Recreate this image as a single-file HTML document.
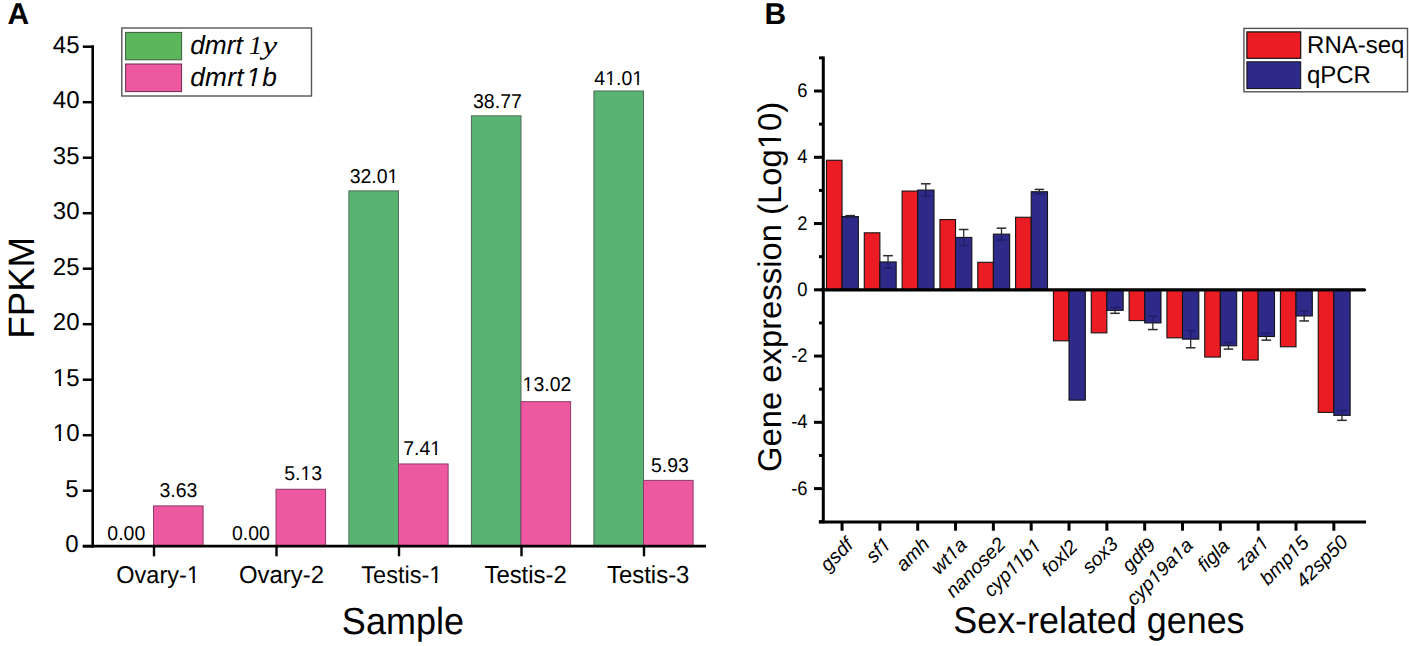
<!DOCTYPE html>
<html><head><meta charset="utf-8"><title>Figure</title>
<style>
html,body{margin:0;padding:0;background:#fff;}
body{width:1409px;height:646px;overflow:hidden;}
svg{display:block;}
text{font-family:"Liberation Sans", sans-serif;fill:#000;text-rendering:geometricPrecision;}
</style></head>
<body>
<svg width="1409" height="646" viewBox="0 0 1409 646">
<rect width="1409" height="646" fill="#fff"/>
<text transform="translate(7.6,24.1)" font-size="30" font-weight="bold">A</text>
<rect x="153.5" y="505.91" width="49.6" height="40.29" fill="#ee58a0" stroke="#8a3b6b" stroke-width="1"/>
<text transform="translate(107.32,539.9) scale(1,1.03)" font-size="19.5">0.00</text>
<text transform="translate(159.38,497.1) scale(1,1.03)" font-size="19.5">3.63</text>
<text transform="translate(116.33,583.3) scale(1,1.03)" font-size="23.5">Ovary-1</text>
<path class="f1" transform="translate(116.33,583.3) scale(1,1.03)" d="M71.26,1.20 L71.26,-3.44 L76.41,-3.44 L76.41,1.20 Z M78.49,1.20 L78.49,-3.44 L83.45,-3.44 L83.45,1.20 Z" fill="#fff"/>
<line x1="154" y1="546.2" x2="154" y2="556.3" stroke="#000" stroke-width="2.4"/>
<rect x="276" y="489.26" width="49.6" height="56.94" fill="#ee58a0" stroke="#8a3b6b" stroke-width="1"/>
<text transform="translate(231.97,539.9) scale(1,1.03)" font-size="19.5">0.00</text>
<text transform="translate(284.26,480.2) scale(1,1.03)" font-size="19.5">5.13</text>
<path class="f1" transform="translate(284.26,480.2) scale(1,1.03)" d="M16.88,1.20 L16.88,-2.86 L21.15,-2.86 L21.15,1.20 Z M22.88,1.20 L22.88,-2.86 L27.00,-2.86 L27.00,1.20 Z" fill="#fff"/>
<text transform="translate(239.04,583.3) scale(1,1.03)" font-size="23.9">Ovary-2</text>
<line x1="276.5" y1="546.2" x2="276.5" y2="556.3" stroke="#000" stroke-width="2.4"/>
<rect x="348.9" y="190.89" width="49.6" height="355.31" fill="#59b473" stroke="#4f6b57" stroke-width="1"/>
<rect x="398.5" y="463.95" width="49.6" height="82.25" fill="#ee58a0" stroke="#8a3b6b" stroke-width="1"/>
<text transform="translate(349.66,183.2) scale(1,1.03)" font-size="19.5">32.01</text>
<path class="f1" transform="translate(349.66,183.2) scale(1,1.03)" d="M38.57,1.20 L38.57,-2.86 L42.84,-2.86 L42.84,1.20 Z M44.56,1.20 L44.56,-2.86 L48.69,-2.86 L48.69,1.20 Z" fill="#fff"/>
<text transform="translate(403.25,454.6) scale(1,1.03)" font-size="19.5">7.41</text>
<path class="f1" transform="translate(403.25,454.6) scale(1,1.03)" d="M27.72,1.20 L27.72,-2.86 L32.00,-2.86 L32.00,1.20 Z M33.72,1.20 L33.72,-2.86 L37.84,-2.86 L37.84,1.20 Z" fill="#fff"/>
<text transform="translate(361.33,583.3) scale(1,1.03)" font-size="23.5">Testis-1</text>
<path class="f1" transform="translate(361.33,583.3) scale(1,1.03)" d="M68.65,1.20 L68.65,-3.44 L73.80,-3.44 L73.80,1.20 Z M75.88,1.20 L75.88,-3.44 L80.85,-3.44 L80.85,1.20 Z" fill="#fff"/>
<line x1="399" y1="546.2" x2="399" y2="556.3" stroke="#000" stroke-width="2.4"/>
<rect x="471.4" y="115.85" width="49.6" height="430.35" fill="#59b473" stroke="#4f6b57" stroke-width="1"/>
<rect x="521" y="401.68" width="49.6" height="144.52" fill="#ee58a0" stroke="#8a3b6b" stroke-width="1"/>
<text transform="translate(473.02,108.4) scale(1,1.03)" font-size="19.5">38.77</text>
<text transform="translate(522.6,390.9) scale(1,1.03)" font-size="19.5">13.02</text>
<path class="f1" transform="translate(522.6,390.9) scale(1,1.03)" d="M0.63,1.20 L0.63,-2.86 L4.90,-2.86 L4.90,1.20 Z M6.63,1.20 L6.63,-2.86 L10.75,-2.86 L10.75,1.20 Z" fill="#fff"/>
<text transform="translate(484.44,583.3) scale(1,1.03)" font-size="23.9">Testis-2</text>
<line x1="521.5" y1="546.2" x2="521.5" y2="556.3" stroke="#000" stroke-width="2.4"/>
<rect x="593.9" y="90.99" width="49.6" height="455.21" fill="#59b473" stroke="#4f6b57" stroke-width="1"/>
<rect x="643.5" y="480.38" width="49.6" height="65.82" fill="#ee58a0" stroke="#8a3b6b" stroke-width="1"/>
<text transform="translate(594.3,84.9) scale(1,1.03)" font-size="19.5">41.01</text>
<path class="f1" transform="translate(594.3,84.9) scale(1,1.03)" d="M11.47,1.20 L11.47,-2.86 L15.75,-2.86 L15.75,1.20 Z M17.47,1.20 L17.47,-2.86 L21.59,-2.86 L21.59,1.20 Z" fill="#fff"/>
<path class="f1" transform="translate(594.3,84.9) scale(1,1.03)" d="M38.57,1.20 L38.57,-2.86 L42.84,-2.86 L42.84,1.20 Z M44.56,1.20 L44.56,-2.86 L48.69,-2.86 L48.69,1.20 Z" fill="#fff"/>
<text transform="translate(650.91,471.8) scale(1,1.03)" font-size="19.5">5.93</text>
<text transform="translate(607.06,583.3) scale(1,1.03)" font-size="23.9">Testis-3</text>
<line x1="644" y1="546.2" x2="644" y2="556.3" stroke="#000" stroke-width="2.4"/>
<line x1="92.7" y1="45.3" x2="92.7" y2="547.4" stroke="#000" stroke-width="2.6"/>
<line x1="82.8" y1="546.2" x2="706" y2="546.2" stroke="#000" stroke-width="2.7"/>
<line x1="82.8" y1="546.2" x2="92.7" y2="546.2" stroke="#000" stroke-width="2.5"/>
<text transform="translate(78.5,552.4) scale(1,1.02)" font-size="24" text-anchor="end">0</text>
<line x1="82.8" y1="490.7" x2="92.7" y2="490.7" stroke="#000" stroke-width="2.5"/>
<text transform="translate(78.5,496.9) scale(1,1.02)" font-size="24" text-anchor="end">5</text>
<line x1="82.8" y1="435.2" x2="92.7" y2="435.2" stroke="#000" stroke-width="2.5"/>
<text transform="translate(79.5,441.4) scale(1,1.02)" font-size="24" text-anchor="end">10</text>
<path class="f1" transform="translate(79.5,441.4) scale(1,1.02)" d="M-25.93,1.20 L-25.93,-3.52 L-20.67,-3.52 L-20.67,1.20 Z M-18.55,1.20 L-18.55,-3.52 L-13.47,-3.52 L-13.47,1.20 Z" fill="#fff"/>
<line x1="82.8" y1="379.7" x2="92.7" y2="379.7" stroke="#000" stroke-width="2.5"/>
<text transform="translate(79.5,385.9) scale(1,1.02)" font-size="24" text-anchor="end">15</text>
<path class="f1" transform="translate(79.5,385.9) scale(1,1.02)" d="M-25.93,1.20 L-25.93,-3.52 L-20.67,-3.52 L-20.67,1.20 Z M-18.55,1.20 L-18.55,-3.52 L-13.47,-3.52 L-13.47,1.20 Z" fill="#fff"/>
<line x1="82.8" y1="324.2" x2="92.7" y2="324.2" stroke="#000" stroke-width="2.5"/>
<text transform="translate(79.5,330.4) scale(1,1.02)" font-size="24" text-anchor="end">20</text>
<line x1="82.8" y1="268.7" x2="92.7" y2="268.7" stroke="#000" stroke-width="2.5"/>
<text transform="translate(79.5,274.9) scale(1,1.02)" font-size="24" text-anchor="end">25</text>
<line x1="82.8" y1="213.2" x2="92.7" y2="213.2" stroke="#000" stroke-width="2.5"/>
<text transform="translate(79.5,219.4) scale(1,1.02)" font-size="24" text-anchor="end">30</text>
<line x1="82.8" y1="157.7" x2="92.7" y2="157.7" stroke="#000" stroke-width="2.5"/>
<text transform="translate(79.5,163.9) scale(1,1.02)" font-size="24" text-anchor="end">35</text>
<line x1="82.8" y1="102.2" x2="92.7" y2="102.2" stroke="#000" stroke-width="2.5"/>
<text transform="translate(79.5,108.4) scale(1,1.02)" font-size="24" text-anchor="end">40</text>
<line x1="82.8" y1="46.7" x2="92.7" y2="46.7" stroke="#000" stroke-width="2.5"/>
<text transform="translate(79.5,52.9) scale(1,1.02)" font-size="24" text-anchor="end">45</text>
<text transform="translate(33.6,287.8) rotate(-90)" font-size="36.7" text-anchor="middle">FPKM</text>
<text transform="translate(402.9,633.6) scale(1,1.05)" font-size="36" text-anchor="middle">Sample</text>
<rect x="121.8" y="28" width="189.7" height="68" fill="#fff" stroke="#555" stroke-width="1.4"/>
<rect x="125.6" y="32.4" width="56" height="27.4" fill="#5ab75c" stroke="#3d5a40" stroke-width="1"/>
<rect x="125.6" y="64" width="56" height="27.6" fill="#ee58a0" stroke="#6b2a4c" stroke-width="1"/>
<text transform="translate(190.2,54.2)" font-size="26.3" font-style="italic">dmrt</text>
<text transform="translate(248.9,54.0)" font-size="26.3" font-style="italic" style="font-family:&quot;Liberation Serif&quot;,serif">1</text>
<text transform="translate(262.6,54.0) scale(1.26,1)" font-size="26.3" font-style="italic" style="font-family:&quot;Liberation Serif&quot;,serif">y</text>
<text transform="translate(190.2,86)" font-size="26.3" font-style="italic" letter-spacing="0.25" dx="0 0 0 0 2.5 1">dmrt1b</text>
<path class="f1" transform="translate(190.2,86)" d="M55.65,1.20 L56.04,-3.85 L61.80,-3.85 L61.42,1.20 Z M63.74,1.20 L64.13,-3.85 L69.69,-3.85 L69.30,1.20 Z" fill="#fff"/>
<text transform="translate(764.5,24)" font-size="30" font-weight="bold">B</text>
<rect x="826.45" y="160.26" width="15.6" height="129.54" fill="#ec1c24" stroke="#141414" stroke-width="1.1"/>
<rect x="842.05" y="216.58" width="16.3" height="73.22" fill="#2d2a8a" stroke="#141414" stroke-width="1.1"/>
<line x1="850.2" y1="216.58" x2="850.2" y2="217.58" stroke="#201d66" stroke-width="1.3"/>
<line x1="845.4" y1="217.58" x2="855" y2="217.58" stroke="#201d66" stroke-width="1.4"/>
<line x1="850.2" y1="216.58" x2="850.2" y2="215.59" stroke="#2a2a2a" stroke-width="1.3"/>
<line x1="845.4" y1="215.59" x2="855" y2="215.59" stroke="#2a2a2a" stroke-width="1.5"/>
<line x1="842.05" y1="521.8" x2="842.05" y2="530.7" stroke="#000" stroke-width="3"/>
<text transform="translate(854.25,546.2) rotate(-45)" font-size="19.6" text-anchor="end" font-style="italic">gsdf</text>
<rect x="864.28" y="232.82" width="15.6" height="56.98" fill="#ec1c24" stroke="#141414" stroke-width="1.1"/>
<rect x="879.88" y="261.97" width="16.3" height="27.83" fill="#2d2a8a" stroke="#141414" stroke-width="1.1"/>
<line x1="888.03" y1="261.97" x2="888.03" y2="268.27" stroke="#201d66" stroke-width="1.3"/>
<line x1="883.23" y1="268.27" x2="892.83" y2="268.27" stroke="#201d66" stroke-width="1.4"/>
<line x1="888.03" y1="261.97" x2="888.03" y2="255.68" stroke="#2a2a2a" stroke-width="1.3"/>
<line x1="883.23" y1="255.68" x2="892.83" y2="255.68" stroke="#2a2a2a" stroke-width="1.5"/>
<line x1="879.88" y1="521.8" x2="879.88" y2="530.7" stroke="#000" stroke-width="3"/>
<text transform="translate(892.25,545.51) rotate(-45)" font-size="19.6" text-anchor="end" font-style="italic">sf1</text>
<path class="f1" transform="translate(892.25,545.51) rotate(-45)" d="M-11.26,1.20 L-10.97,-2.87 L-6.68,-2.87 L-6.96,1.20 Z M-5.23,1.20 L-4.94,-2.87 L-0.80,-2.87 L-1.09,1.20 Z" fill="#fff"/>
<rect x="902.11" y="191.07" width="15.6" height="98.73" fill="#ec1c24" stroke="#141414" stroke-width="1.1"/>
<rect x="917.71" y="190.08" width="16.3" height="99.72" fill="#2d2a8a" stroke="#141414" stroke-width="1.1"/>
<line x1="925.86" y1="190.08" x2="925.86" y2="196.37" stroke="#201d66" stroke-width="1.3"/>
<line x1="921.06" y1="196.37" x2="930.66" y2="196.37" stroke="#201d66" stroke-width="1.4"/>
<line x1="925.86" y1="190.08" x2="925.86" y2="183.78" stroke="#2a2a2a" stroke-width="1.3"/>
<line x1="921.06" y1="183.78" x2="930.66" y2="183.78" stroke="#2a2a2a" stroke-width="1.5"/>
<line x1="917.71" y1="521.8" x2="917.71" y2="530.7" stroke="#000" stroke-width="3"/>
<text transform="translate(930.75,545.32) rotate(-45)" font-size="19.6" text-anchor="end" font-style="italic">amh</text>
<rect x="939.94" y="219.56" width="15.6" height="70.24" fill="#ec1c24" stroke="#141414" stroke-width="1.1"/>
<rect x="955.54" y="237.45" width="16.3" height="52.35" fill="#2d2a8a" stroke="#141414" stroke-width="1.1"/>
<line x1="963.69" y1="237.45" x2="963.69" y2="245.41" stroke="#201d66" stroke-width="1.3"/>
<line x1="958.89" y1="245.41" x2="968.49" y2="245.41" stroke="#201d66" stroke-width="1.4"/>
<line x1="963.69" y1="237.45" x2="963.69" y2="229.5" stroke="#2a2a2a" stroke-width="1.3"/>
<line x1="958.89" y1="229.5" x2="968.49" y2="229.5" stroke="#2a2a2a" stroke-width="1.5"/>
<line x1="955.54" y1="521.8" x2="955.54" y2="530.7" stroke="#000" stroke-width="3"/>
<text transform="translate(968.25,546.13) rotate(-45)" font-size="19.6" text-anchor="end" font-style="italic">wt1a</text>
<path class="f1" transform="translate(968.25,546.13) rotate(-45)" d="M-22.15,1.20 L-21.86,-2.87 L-17.57,-2.87 L-17.85,1.20 Z M-16.12,1.20 L-15.83,-2.87 L-11.69,-2.87 L-11.98,1.20 Z" fill="#fff"/>
<rect x="977.77" y="262.3" width="15.6" height="27.5" fill="#ec1c24" stroke="#141414" stroke-width="1.1"/>
<rect x="993.37" y="234.14" width="16.3" height="55.66" fill="#2d2a8a" stroke="#141414" stroke-width="1.1"/>
<line x1="1001.52" y1="234.14" x2="1001.52" y2="240.11" stroke="#201d66" stroke-width="1.3"/>
<line x1="996.72" y1="240.11" x2="1006.32" y2="240.11" stroke="#201d66" stroke-width="1.4"/>
<line x1="1001.52" y1="234.14" x2="1001.52" y2="228.18" stroke="#2a2a2a" stroke-width="1.3"/>
<line x1="996.72" y1="228.18" x2="1006.32" y2="228.18" stroke="#2a2a2a" stroke-width="1.5"/>
<line x1="993.37" y1="521.8" x2="993.37" y2="530.7" stroke="#000" stroke-width="3"/>
<text transform="translate(1006.75,545.44) rotate(-45)" font-size="19.6" text-anchor="end" font-style="italic">nanose2</text>
<rect x="1015.6" y="217.25" width="15.6" height="72.55" fill="#ec1c24" stroke="#141414" stroke-width="1.1"/>
<rect x="1031.2" y="191.74" width="16.3" height="98.06" fill="#2d2a8a" stroke="#141414" stroke-width="1.1"/>
<line x1="1039.35" y1="191.74" x2="1039.35" y2="194.05" stroke="#201d66" stroke-width="1.3"/>
<line x1="1034.55" y1="194.05" x2="1044.15" y2="194.05" stroke="#201d66" stroke-width="1.4"/>
<line x1="1039.35" y1="191.74" x2="1039.35" y2="189.42" stroke="#2a2a2a" stroke-width="1.3"/>
<line x1="1034.55" y1="189.42" x2="1044.15" y2="189.42" stroke="#2a2a2a" stroke-width="1.5"/>
<line x1="1031.2" y1="521.8" x2="1031.2" y2="530.7" stroke="#000" stroke-width="3"/>
<text transform="translate(1042.75,546.75) rotate(-45)" font-size="19.6" text-anchor="end" font-style="italic">cyp11b1</text>
<path class="f1" transform="translate(1042.75,546.75) rotate(-45)" d="M-42.49,1.20 L-42.21,-2.87 L-37.91,-2.87 L-38.20,1.20 Z M-36.47,1.20 L-36.18,-2.87 L-32.03,-2.87 L-32.32,1.20 Z" fill="#fff"/>
<path class="f1" transform="translate(1042.75,546.75) rotate(-45)" d="M-33.06,1.20 L-32.77,-2.87 L-28.47,-2.87 L-28.76,1.20 Z M-27.03,1.20 L-26.74,-2.87 L-22.60,-2.87 L-22.88,1.20 Z" fill="#fff"/>
<path class="f1" transform="translate(1042.75,546.75) rotate(-45)" d="M-11.26,1.20 L-10.97,-2.87 L-6.68,-2.87 L-6.96,1.20 Z M-5.23,1.20 L-4.94,-2.87 L-0.80,-2.87 L-1.09,1.20 Z" fill="#fff"/>
<rect x="1053.43" y="289.8" width="15.6" height="51.02" fill="#ec1c24" stroke="#141414" stroke-width="1.1"/>
<rect x="1069.03" y="289.8" width="16.3" height="110.32" fill="#2d2a8a" stroke="#141414" stroke-width="1.1"/>
<line x1="1069.03" y1="521.8" x2="1069.03" y2="530.7" stroke="#000" stroke-width="3"/>
<text transform="translate(1078.75,548.06) rotate(-45)" font-size="19.6" text-anchor="end" font-style="italic">foxl2</text>
<rect x="1091.26" y="289.8" width="15.6" height="43.07" fill="#ec1c24" stroke="#141414" stroke-width="1.1"/>
<rect x="1106.86" y="289.8" width="16.3" height="20.54" fill="#2d2a8a" stroke="#141414" stroke-width="1.1"/>
<line x1="1115.01" y1="310.34" x2="1115.01" y2="307.36" stroke="#201d66" stroke-width="1.3"/>
<line x1="1110.21" y1="307.36" x2="1119.81" y2="307.36" stroke="#201d66" stroke-width="1.4"/>
<line x1="1115.01" y1="310.34" x2="1115.01" y2="313.32" stroke="#2a2a2a" stroke-width="1.3"/>
<line x1="1110.21" y1="313.32" x2="1119.81" y2="313.32" stroke="#2a2a2a" stroke-width="1.5"/>
<line x1="1106.86" y1="521.8" x2="1106.86" y2="530.7" stroke="#000" stroke-width="3"/>
<text transform="translate(1119.25,545.37) rotate(-45)" font-size="19.6" text-anchor="end" font-style="italic">sox3</text>
<rect x="1129.09" y="289.8" width="15.6" height="30.81" fill="#ec1c24" stroke="#141414" stroke-width="1.1"/>
<rect x="1144.69" y="289.8" width="16.3" height="33.13" fill="#2d2a8a" stroke="#141414" stroke-width="1.1"/>
<line x1="1152.84" y1="322.93" x2="1152.84" y2="316.3" stroke="#201d66" stroke-width="1.3"/>
<line x1="1148.04" y1="316.3" x2="1157.64" y2="316.3" stroke="#201d66" stroke-width="1.4"/>
<line x1="1152.84" y1="322.93" x2="1152.84" y2="329.56" stroke="#2a2a2a" stroke-width="1.3"/>
<line x1="1148.04" y1="329.56" x2="1157.64" y2="329.56" stroke="#2a2a2a" stroke-width="1.5"/>
<line x1="1144.69" y1="521.8" x2="1144.69" y2="530.7" stroke="#000" stroke-width="3"/>
<text transform="translate(1156.75,546.18) rotate(-45)" font-size="19.6" text-anchor="end" font-style="italic">gdf9</text>
<rect x="1166.92" y="289.8" width="15.6" height="48.04" fill="#ec1c24" stroke="#141414" stroke-width="1.1"/>
<rect x="1182.52" y="289.8" width="16.3" height="49.36" fill="#2d2a8a" stroke="#141414" stroke-width="1.1"/>
<line x1="1190.67" y1="339.16" x2="1190.67" y2="330.55" stroke="#201d66" stroke-width="1.3"/>
<line x1="1185.87" y1="330.55" x2="1195.47" y2="330.55" stroke="#201d66" stroke-width="1.4"/>
<line x1="1190.67" y1="339.16" x2="1190.67" y2="347.78" stroke="#2a2a2a" stroke-width="1.3"/>
<line x1="1185.87" y1="347.78" x2="1195.47" y2="347.78" stroke="#2a2a2a" stroke-width="1.5"/>
<line x1="1182.52" y1="521.8" x2="1182.52" y2="530.7" stroke="#000" stroke-width="3"/>
<text transform="translate(1194.25,546.49) rotate(-45)" font-size="19.6" text-anchor="end" font-style="italic">cyp19a1a</text>
<path class="f1" transform="translate(1194.25,546.49) rotate(-45)" d="M-54.85,1.20 L-54.57,-2.87 L-50.27,-2.87 L-50.56,1.20 Z M-48.82,1.20 L-48.54,-2.87 L-44.39,-2.87 L-44.68,1.20 Z" fill="#fff"/>
<path class="f1" transform="translate(1194.25,546.49) rotate(-45)" d="M-22.17,1.20 L-21.88,-2.87 L-17.58,-2.87 L-17.87,1.20 Z M-16.14,1.20 L-15.85,-2.87 L-11.71,-2.87 L-11.99,1.20 Z" fill="#fff"/>
<rect x="1204.75" y="289.8" width="15.6" height="67.25" fill="#ec1c24" stroke="#141414" stroke-width="1.1"/>
<rect x="1220.35" y="289.8" width="16.3" height="55.99" fill="#2d2a8a" stroke="#141414" stroke-width="1.1"/>
<line x1="1228.5" y1="345.79" x2="1228.5" y2="342.48" stroke="#201d66" stroke-width="1.3"/>
<line x1="1223.7" y1="342.48" x2="1233.3" y2="342.48" stroke="#201d66" stroke-width="1.4"/>
<line x1="1228.5" y1="345.79" x2="1228.5" y2="349.1" stroke="#2a2a2a" stroke-width="1.3"/>
<line x1="1223.7" y1="349.1" x2="1233.3" y2="349.1" stroke="#2a2a2a" stroke-width="1.5"/>
<line x1="1220.35" y1="521.8" x2="1220.35" y2="530.7" stroke="#000" stroke-width="3"/>
<text transform="translate(1230.65,547.3) rotate(-45)" font-size="19.6" text-anchor="end" font-style="italic">figla</text>
<rect x="1242.58" y="289.8" width="15.6" height="70.24" fill="#ec1c24" stroke="#141414" stroke-width="1.1"/>
<rect x="1258.18" y="289.8" width="16.3" height="46.71" fill="#2d2a8a" stroke="#141414" stroke-width="1.1"/>
<line x1="1266.33" y1="336.51" x2="1266.33" y2="332.87" stroke="#201d66" stroke-width="1.3"/>
<line x1="1261.53" y1="332.87" x2="1271.13" y2="332.87" stroke="#201d66" stroke-width="1.4"/>
<line x1="1266.33" y1="336.51" x2="1266.33" y2="340.16" stroke="#2a2a2a" stroke-width="1.3"/>
<line x1="1261.53" y1="340.16" x2="1271.13" y2="340.16" stroke="#2a2a2a" stroke-width="1.5"/>
<line x1="1258.18" y1="521.8" x2="1258.18" y2="530.7" stroke="#000" stroke-width="3"/>
<text transform="translate(1270.25,544.11) rotate(-45)" font-size="19.6" text-anchor="end" font-style="italic">zar1</text>
<path class="f1" transform="translate(1270.25,544.11) rotate(-45)" d="M-11.26,1.20 L-10.97,-2.87 L-6.68,-2.87 L-6.96,1.20 Z M-5.23,1.20 L-4.94,-2.87 L-0.80,-2.87 L-1.09,1.20 Z" fill="#fff"/>
<rect x="1280.41" y="289.8" width="15.6" height="56.98" fill="#ec1c24" stroke="#141414" stroke-width="1.1"/>
<rect x="1296.01" y="289.8" width="16.3" height="26.17" fill="#2d2a8a" stroke="#141414" stroke-width="1.1"/>
<line x1="1304.16" y1="315.97" x2="1304.16" y2="311" stroke="#201d66" stroke-width="1.3"/>
<line x1="1299.36" y1="311" x2="1308.96" y2="311" stroke="#201d66" stroke-width="1.4"/>
<line x1="1304.16" y1="315.97" x2="1304.16" y2="320.94" stroke="#2a2a2a" stroke-width="1.3"/>
<line x1="1299.36" y1="320.94" x2="1308.96" y2="320.94" stroke="#2a2a2a" stroke-width="1.5"/>
<line x1="1296.01" y1="521.8" x2="1296.01" y2="530.7" stroke="#000" stroke-width="3"/>
<text transform="translate(1310.25,543.92) rotate(-45)" font-size="19.6" text-anchor="end" font-style="italic">bmp15</text>
<path class="f1" transform="translate(1310.25,543.92) rotate(-45)" d="M-22.17,1.20 L-21.88,-2.87 L-17.58,-2.87 L-17.87,1.20 Z M-16.14,1.20 L-15.85,-2.87 L-11.71,-2.87 L-11.99,1.20 Z" fill="#fff"/>
<rect x="1318.24" y="289.8" width="15.6" height="122.58" fill="#ec1c24" stroke="#141414" stroke-width="1.1"/>
<rect x="1333.84" y="289.8" width="16.3" height="125.56" fill="#2d2a8a" stroke="#141414" stroke-width="1.1"/>
<line x1="1341.99" y1="415.36" x2="1341.99" y2="410.39" stroke="#201d66" stroke-width="1.3"/>
<line x1="1337.19" y1="410.39" x2="1346.79" y2="410.39" stroke="#201d66" stroke-width="1.4"/>
<line x1="1341.99" y1="415.36" x2="1341.99" y2="420.33" stroke="#2a2a2a" stroke-width="1.3"/>
<line x1="1337.19" y1="420.33" x2="1346.79" y2="420.33" stroke="#2a2a2a" stroke-width="1.5"/>
<line x1="1333.84" y1="521.8" x2="1333.84" y2="530.7" stroke="#000" stroke-width="3"/>
<text transform="translate(1349.25,543.23) rotate(-45)" font-size="19.6" text-anchor="end" font-style="italic">42sp50</text>
<line x1="823.3" y1="56.4" x2="823.3" y2="523.3" stroke="#000" stroke-width="3"/>
<line x1="818.8" y1="522" x2="1366" y2="522" stroke="#000" stroke-width="3.1"/>
<line x1="822" y1="289.8" x2="1364.5" y2="289.8" stroke="#000" stroke-width="3.3" stroke-linecap="round"/>
<line x1="819" y1="521.71" x2="823.3" y2="521.71" stroke="#000" stroke-width="3"/>
<line x1="814" y1="488.58" x2="823.3" y2="488.58" stroke="#000" stroke-width="3"/>
<text transform="translate(807.6,494.68) scale(1,1.07)" font-size="18.4" text-anchor="end">-6</text>
<line x1="819" y1="455.45" x2="823.3" y2="455.45" stroke="#000" stroke-width="3"/>
<line x1="814" y1="422.32" x2="823.3" y2="422.32" stroke="#000" stroke-width="3"/>
<text transform="translate(807.6,428.42) scale(1,1.07)" font-size="18.4" text-anchor="end">-4</text>
<line x1="819" y1="389.19" x2="823.3" y2="389.19" stroke="#000" stroke-width="3"/>
<line x1="814" y1="356.06" x2="823.3" y2="356.06" stroke="#000" stroke-width="3"/>
<text transform="translate(807.6,362.16) scale(1,1.07)" font-size="18.4" text-anchor="end">-2</text>
<line x1="819" y1="322.93" x2="823.3" y2="322.93" stroke="#000" stroke-width="3"/>
<line x1="814" y1="289.8" x2="823.3" y2="289.8" stroke="#000" stroke-width="3"/>
<text transform="translate(807.6,295.9) scale(1,1.07)" font-size="18.4" text-anchor="end">0</text>
<line x1="819" y1="256.67" x2="823.3" y2="256.67" stroke="#000" stroke-width="3"/>
<line x1="814" y1="223.54" x2="823.3" y2="223.54" stroke="#000" stroke-width="3"/>
<text transform="translate(807.6,229.64) scale(1,1.07)" font-size="18.4" text-anchor="end">2</text>
<line x1="819" y1="190.41" x2="823.3" y2="190.41" stroke="#000" stroke-width="3"/>
<line x1="814" y1="157.28" x2="823.3" y2="157.28" stroke="#000" stroke-width="3"/>
<text transform="translate(807.6,163.38) scale(1,1.07)" font-size="18.4" text-anchor="end">4</text>
<line x1="819" y1="124.15" x2="823.3" y2="124.15" stroke="#000" stroke-width="3"/>
<line x1="814" y1="91.02" x2="823.3" y2="91.02" stroke="#000" stroke-width="3"/>
<text transform="translate(807.6,97.12) scale(1,1.07)" font-size="18.4" text-anchor="end">6</text>
<line x1="819" y1="57.89" x2="823.3" y2="57.89" stroke="#000" stroke-width="3"/>
<text transform="translate(780.8,287) rotate(-90)" font-size="32.8" text-anchor="middle">Gene expression (Log10)</text>
<path class="f1" transform="translate(780.8,287) rotate(-90)" d="M138.69,1.20 L138.69,-4.80 L145.88,-4.80 L145.88,1.20 Z M148.78,1.20 L148.78,-4.80 L155.71,-4.80 L155.71,1.20 Z" fill="#fff"/>
<text transform="translate(1098.9,633.1) scale(1,1.04)" font-size="35.9" text-anchor="middle">Sex-related genes</text>
<rect x="1243.9" y="28.4" width="163.6" height="63.4" fill="#fff" stroke="#555" stroke-width="1.4"/>
<rect x="1246.9" y="31.9" width="53.8" height="26.4" fill="#ec1c24" stroke="#111" stroke-width="1.2"/>
<rect x="1246.9" y="61.8" width="53.8" height="26.8" fill="#2d2a8a" stroke="#111" stroke-width="1"/>
<text transform="translate(1307.1,53.3) scale(1,1.02)" font-size="24">RNA-seq</text>
<text transform="translate(1306.9,83.2) scale(1,1.02)" font-size="24">qPCR</text>
</svg>
</body></html>
